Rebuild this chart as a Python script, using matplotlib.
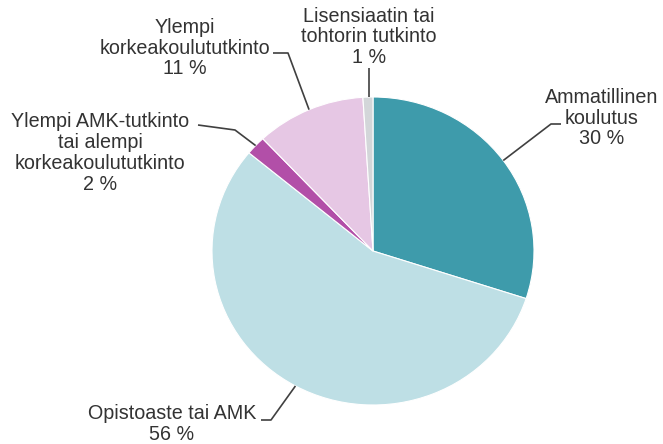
import numpy as np
import matplotlib.pyplot as plt

# Koulutusaste, osuudet (%)
labels = ["Ammatillinen\nkoulutus", "Opistoaste tai AMK",
          "Ylempi AMK-tutkinto\ntai alempi\nkorkeakoulututkinto",
          "Ylempi\nkorkeakoulututkinto", "Lisensiaatin tai\ntohtorin tutkinto"]
values = [30, 56, 2, 11, 1]
colors = ["#3e9bab", "#bedfe5", "#b24fa8", "#e6c7e4", "#d3d6d9"]

# label text centre (pixels) and the elbow of the leader line (pixels, x y)
text_pos = [(602, 118), (172, 424), (100, 153), (185, 48), (369, 37)]
elbow = [[(551, 124), (561, 124)], [(271, 420), (261, 420)],
         [(235, 130), (198, 125)], [(288, 53), (273, 53)], [(369, 68)]]

W, H = 663, 444
cx, cy = 373, 251      # pie centre in pixels
rx, ry = 161, 154      # slightly squashed, like the original

fig = plt.figure(figsize=(W / 100, H / 100), dpi=100)
ax = fig.add_axes([0, 0, 1, 1])
plt.rcParams['font.family'] = ['Liberation Sans', 'DejaVu Sans']

# data units: x in pixels, y scaled so a circle of radius rx looks ry tall
k = rx / ry
wedges, _ = ax.pie(values, colors=colors, startangle=90, counterclock=False,
                   radius=rx, center=(cx, (H - cy) * k),
                   wedgeprops=dict(edgecolor="white", linewidth=0.8))
ax.set_aspect('auto')
ax.set_xlim(0, W)
ax.set_ylim(0, H * k)
ax.axis('off')

def to_data(px, py):
    return px, (H - py) * k

start = 90.0
for i, v in enumerate(values):
    mid = np.deg2rad(start - v / sum(values) * 360 / 2)
    start -= v / sum(values) * 360
    ex, ey = cx + rx * np.cos(mid), cy - ry * np.sin(mid)
    if i == 4:
        ex = elbow[i][0][0]
    pts = [(ex, ey)] + elbow[i]
    xs, ys = zip(*[to_data(*p) for p in pts])
    ax.plot(xs, ys, color="#404040", lw=1.2, solid_capstyle='butt')
    tx, ty = to_data(*text_pos[i])
    ax.text(tx, ty, f"{labels[i]}\n{values[i]} %", ha='center', va='center',
            fontsize=14.2, color="#333333", linespacing=1.12)

fig.savefig("out.png", dpi=100)
